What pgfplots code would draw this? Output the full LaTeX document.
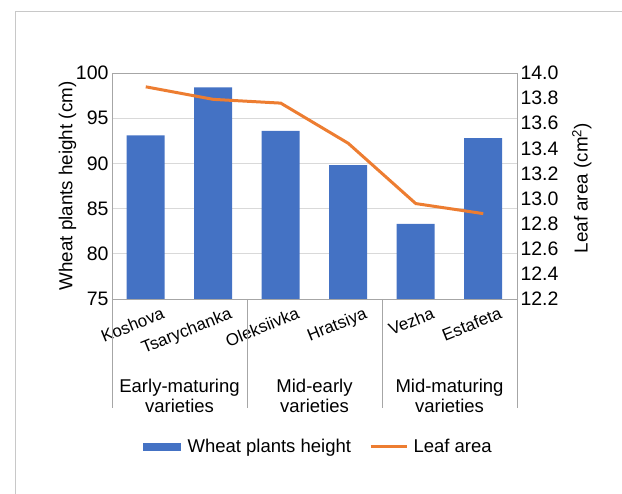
\documentclass[border=0pt]{standalone}
\usepackage{pgfplots}
\pgfplotsset{compat=1.18}
\usepackage{fontspec}
\setmainfont{Liberation Sans}
\definecolor{barblue}{HTML}{4472C4}
\definecolor{lineorange}{HTML}{ED7D31}
\definecolor{axgray}{HTML}{A6A6A6}
\definecolor{gridgray}{HTML}{D9D9D9}
\definecolor{framegray}{HTML}{C8C8C8}
\begin{document}
\begin{tikzpicture}[x=1pt,y=1pt,font=\fontsize{18.5}{20}\selectfont]
\path[use as bounding box] (0,0) rectangle (622,494);
\draw[framegray, line width=1pt] (15,0) -- (15,482) -- (622,482);
\begin{axis}[
  at={(112pt,195pt)}, anchor=south west,
  width=405pt, height=226pt, scale only axis,
  xmin=-0.5, xmax=5.5, ymin=75, ymax=100,
  ytick={75,80,85,90,95,100},
  xtick={0,1,2,3,4,5},
  xticklabels={Koshova,Tsarychanka,Oleksiivka,Hratsiya,Vezha,Estafeta},
  xticklabel style={xshift=17pt, yshift=-3pt, rotate=22, anchor=north east, font=\fontsize{17}{18}\selectfont},
  yticklabel style={font=\fontsize{19.5}{20}\selectfont},
  xtick pos=bottom, ytick pos=left,
  major tick length=0pt,
  ymajorgrids, grid style={gridgray, line width=0.8pt},
  axis line style={axgray, line width=0.8pt},
  /pgf/number format/assume math mode=true,
  ylabel={Wheat plants height (cm)},
  ylabel style={at={(axis description cs:-0.11,0.5)}, anchor=center, font=\fontsize{18.8}{20}\selectfont},
]
\addplot[ybar, bar width=38pt, bar shift=0pt, fill=barblue, draw=none]
  coordinates {(0,93.1) (1,98.4) (2,93.6) (3,89.8) (4,83.3) (5,92.8)};
\end{axis}
\begin{axis}[
  at={(112pt,195pt)}, anchor=south west,
  width=405pt, height=226pt, scale only axis,
  xmin=-0.5, xmax=5.5, ymin=12.2, ymax=14.0,
  axis x line=none, axis y line*=right,
  ytick={12.2,12.4,12.6,12.8,13.0,13.2,13.4,13.6,13.8,14.0},
  yticklabel style={/pgf/number format/.cd, fixed, fixed zerofill, precision=1},
  tick label style={font=\fontsize{19.5}{20}\selectfont},
  major tick length=0pt,
  axis line style={axgray, line width=0.8pt},
  /pgf/number format/assume math mode=true,
  ylabel={Leaf area (cm\textsuperscript{2})},
  ylabel style={at={(axis description cs:1.16,0.49)}, anchor=center, rotate=0, font=\fontsize{18.8}{20}\selectfont},
  legend columns=2,
  legend style={at={(0.51,0)}, anchor=center, yshift=-148pt, draw=none, fill=none,
    font=\fontsize{18.5}{20}\selectfont,
    /tikz/every even column/.append style={column sep=16pt}},
]
\addlegendimage{legend image code/.code={\fill[barblue] (0pt,-3.5pt) rectangle (37pt,3.5pt); \path[draw=none,fill=none] (0pt,0pt) -- (42pt,0pt);}}
\addlegendentry{Wheat plants height}
\addplot[lineorange, line width=3pt, mark=none,
  legend image code/.code={\draw[lineorange, line width=3pt] (0pt,0pt) -- (36pt,0pt); \path[draw=none,fill=none] (0pt,0pt) -- (41pt,0pt);}]
  coordinates {(0,13.89) (1,13.79) (2,13.76) (3,13.44) (4,12.96) (5,12.88)};
\addlegendentry{Leaf area}
\end{axis}
\foreach \xx in {112,247,382,517} {\draw[axgray, line width=0.8pt] (\xx,195) -- (\xx,86);}
\node[align=center] at (179.5,98) {Early-maturing\\varieties};
\node[align=center] at (314.5,98) {Mid-early\\varieties};
\node[align=center] at (449.5,98) {Mid-maturing\\varieties};
\end{tikzpicture}
\end{document}
